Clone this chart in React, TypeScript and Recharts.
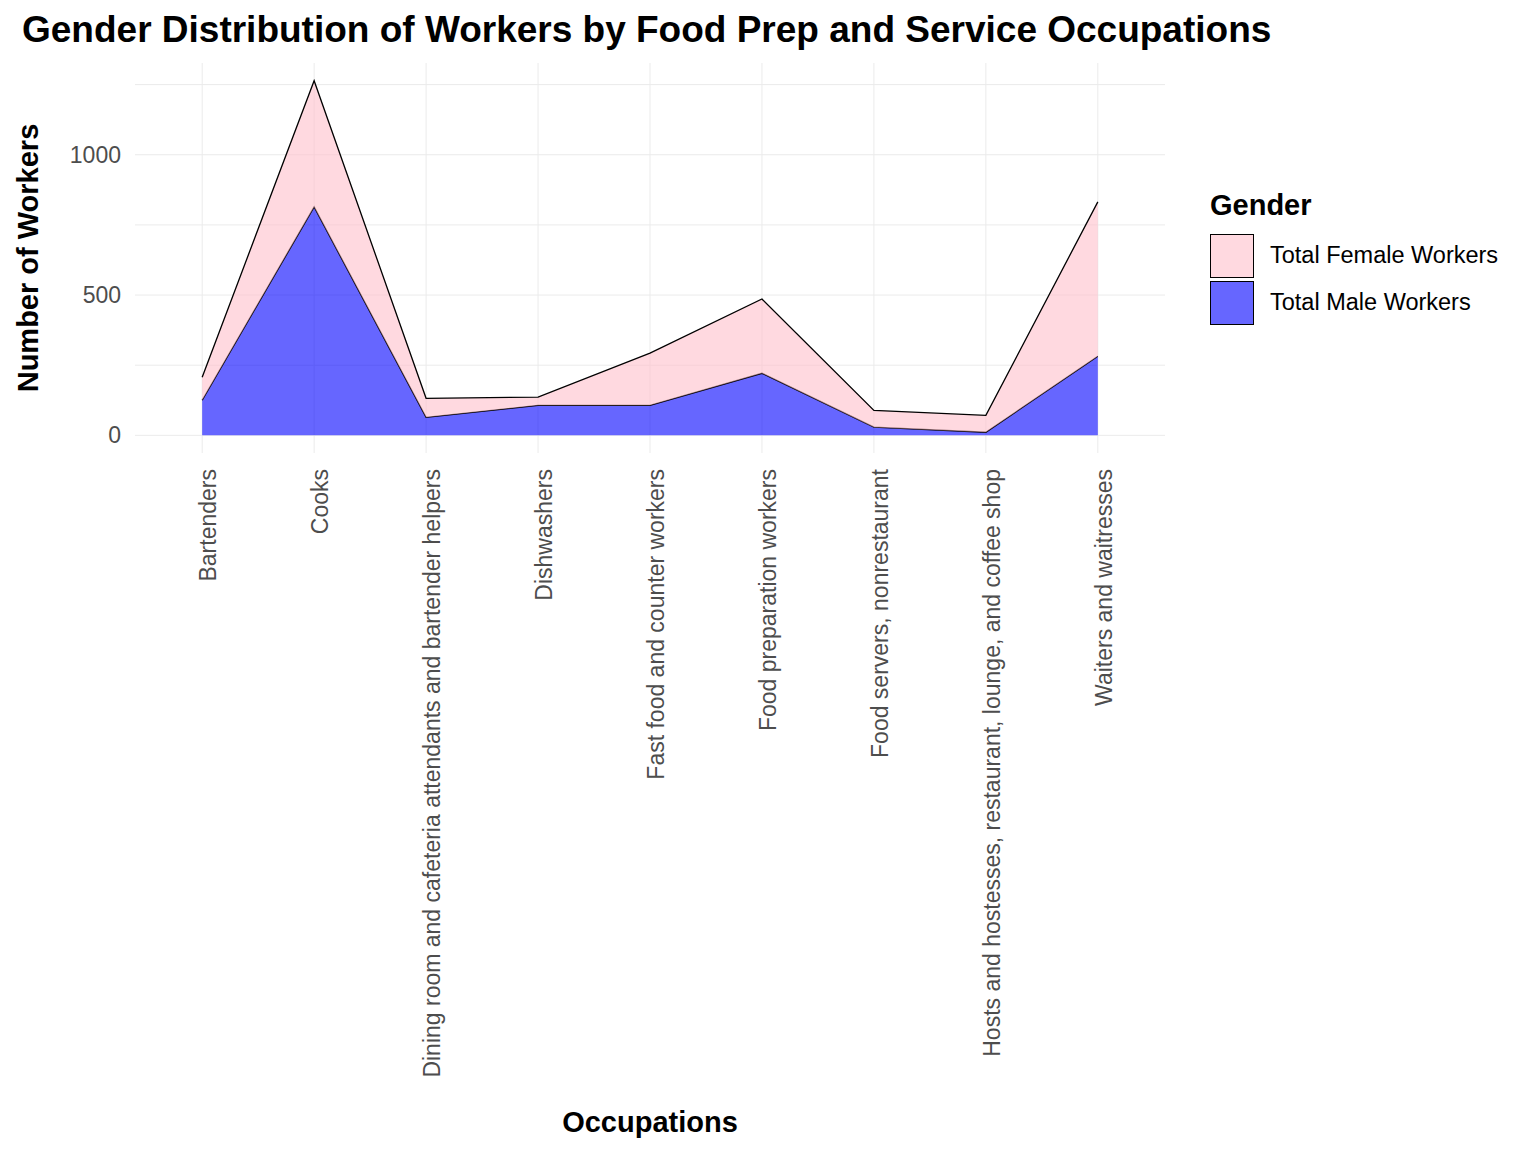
import React from 'react';
import { AreaChart, Area, XAxis, YAxis, CartesianGrid } from 'recharts';

const occupations = [
  'Bartenders',
  'Cooks',
  'Dining room and cafeteria attendants and bartender helpers',
  'Dishwashers',
  'Fast food and counter workers',
  'Food preparation workers',
  'Food servers, nonrestaurant',
  'Hosts and hostesses, restaurant, lounge, and coffee shop',
  'Waiters and waitresses',
];
const maleWorkers = [125, 814, 64, 107, 107, 221, 29, 11, 282];
const femaleWorkers = [82, 450, 68, 29, 186, 265, 60, 60, 550];
const yTicks = [0, 500, 1000];

const data = occupations.map((name, i) => ({
  idx: i + 1,
  name,
  male: maleWorkers[i],
  female: femaleWorkers[i],
}));

const font = 'Arial, "Liberation Sans", sans-serif';

const RotTick = (props: any) => {
  const { x, y, payload } = props;
  return (
    <text
      x={x}
      y={y}
      transform={`rotate(-90, ${x + 8}, ${y})`}
      textAnchor="end"
      dominantBaseline="middle"
      fontSize={23}
      fill="#4d4d4d"
      fontFamily={font}
    >
      {occupations[payload.value - 1]}
    </text>
  );
};

const LegendKey = ({ color, label }: { color: string; label: string }) => (
  <div style={{ display: 'flex', alignItems: 'center', height: 47 }}>
    <div style={{ width: 44, height: 44, background: color, border: '1.5px solid #000', boxSizing: 'border-box' }} />
    <span style={{ marginLeft: 16, fontSize: 23.5 }}>{label}</span>
  </div>
);

export default function App() {
  return (
    <div style={{ position: 'absolute', top: 0, left: 0, width: 1536, height: 1152, background: '#fff', fontFamily: font }}>
      <div style={{ position: 'absolute', left: 22, top: 9, fontSize: 37, fontWeight: 'bold', whiteSpace: 'nowrap' }}>
        Gender Distribution of Workers by Food Prep and Service Occupations
      </div>
      <div
        style={{
          position: 'absolute', left: 28, top: 258, fontSize: 29, fontWeight: 'bold',
          transform: 'translate(-50%, -50%) rotate(-90deg)', whiteSpace: 'nowrap',
        }}
      >
        Number of Workers
      </div>
      <div style={{ position: 'absolute', left: 650, top: 1122, fontSize: 29, fontWeight: 'bold', transform: 'translate(-50%, -50%)', whiteSpace: 'nowrap' }}>
        Occupations
      </div>
      <div style={{ position: 'absolute', left: 1210, top: 189 }}>
        <div style={{ fontSize: 29, fontWeight: 'bold', marginBottom: 10 }}>Gender</div>
        <LegendKey color="#ffd9e0" label="Total Female Workers" />
        <LegendKey color="#6666ff" label="Total Male Workers" />
      </div>
      <AreaChart
        width={1536}
        height={1152}
        data={data}
        margin={{ top: 63, right: 371, left: 0, bottom: 0 }}
        style={{ position: 'absolute', top: 0, left: 0 }}
      >
        <CartesianGrid
          stroke="#ebebeb"
          horizontalValues={[0, 250, 500, 750, 1000, 1250]}
          verticalValues={[1, 2, 3, 4, 5, 6, 7, 8, 9]}
        />
        <XAxis
          dataKey="idx"
          type="number"
          domain={[0.4, 9.6]}
          ticks={[1, 2, 3, 4, 5, 6, 7, 8, 9]}
          tick={<RotTick />}
          tickLine={false}
          axisLine={false}
          height={699}
          interval={0}
        />
        <YAxis
          type="number"
          domain={[-63, 1327]}
          ticks={yTicks}
          width={135}
          tickLine={false}
          axisLine={false}
          tick={{ fontSize: 23, fill: '#4d4d4d', fontFamily: font }}
          tickMargin={8}
        />
        <Area
          type="linear"
          dataKey="male"
          stackId="a"
          stroke="#000"
          strokeWidth={1.3}
          fill="#0000ff"
          fillOpacity={0.6}
          isAnimationActive={false}
        />
        <Area
          type="linear"
          dataKey="female"
          stackId="a"
          stroke="#000"
          strokeWidth={1.3}
          fill="#ffc0cb"
          fillOpacity={0.6}
          isAnimationActive={false}
        />
      </AreaChart>
    </div>
  );
}
